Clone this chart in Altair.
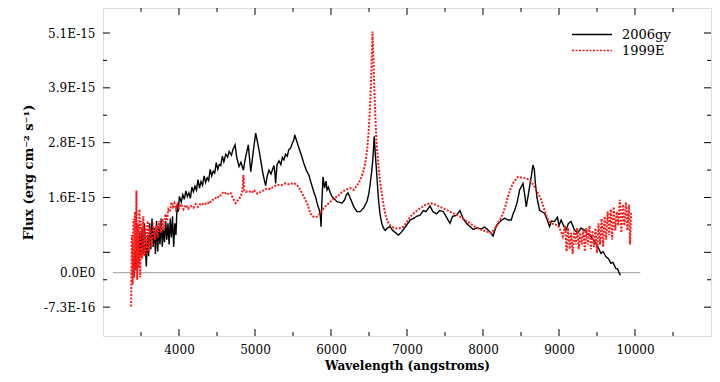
import altair as alt
import pandas as pd

# ---------------- data (flux in units of 1e-15 erg cm^-2 s^-1) ----------------
wl_2006gy = [3410, 3425, 3440, 3455, 3470, 3485, 3500, 3515, 3530, 3545, 3560, 3570, 3585, 3600, 3615,
             3630, 3645, 3660, 3675, 3690, 3705, 3720, 3735, 3750, 3765, 3780, 3795, 3810, 3825, 3840,
             3855, 3870, 3885, 3900, 3915, 3930, 3945, 3960, 3975, 3990, 4005, 4030, 4050, 4070, 4090,
             4110, 4130, 4150, 4170, 4190, 4210, 4230, 4250, 4270, 4290, 4310, 4330, 4350, 4370, 4390,
             4410, 4430, 4450, 4470, 4490, 4510, 4530, 4550, 4570, 4590, 4616, 4640, 4659, 4690, 4710,
             4738, 4760, 4790, 4815, 4847, 4875, 4912, 4944, 4975, 5009, 5030, 5052, 5080, 5105, 5140,
             5160, 5183, 5210, 5249, 5260, 5271, 5290, 5315, 5340, 5360, 5380, 5402, 5425, 5445, 5468,
             5490, 5510, 5524, 5545, 5577, 5610, 5642, 5675, 5708, 5740, 5773, 5800, 5817, 5848, 5860,
             5869, 5880, 5895, 5915, 5935, 5948, 5965, 5990, 6013, 6040, 6079, 6110, 6144, 6180, 6200,
             6223, 6250, 6275, 6300, 6341, 6385, 6430, 6472, 6500, 6516, 6535, 6550, 6569, 6582, 6595,
             6610, 6625, 6645, 6668, 6690, 6713, 6740, 6778, 6810, 6850, 6887, 6920, 6953, 6990, 7041,
             7080, 7127, 7170, 7215, 7250, 7303, 7340, 7389, 7430, 7477, 7520, 7565, 7600, 7650, 7696,
             7740, 7782, 7830, 7870, 7920, 7979, 8020, 8067, 8100, 8132, 8176, 8230, 8286, 8330, 8372,
             8395, 8417, 8450, 8482, 8526, 8550, 8569, 8590, 8613, 8640, 8657, 8675, 8687, 8710, 8744,
             8775, 8810, 8840, 8875, 8900, 8941, 8980, 9000, 9028, 9060, 9093, 9125, 9159, 9200, 9246,
             9290, 9334, 9380, 9421, 9450, 9486, 9520, 9552, 9580, 9617, 9650, 9683, 9710, 9748, 9770,
             9793, 9810]
flux_2006gy = [-0.10, 0.45, 0.05, 0.75, 0.20, 0.85, 0.35, 0.95, 0.40, 1.05, 0.45, 0.13, 0.80, 0.35, 1.05,
               0.50, 1.15, 0.55, 0.95, 0.40, 1.10, 0.45, 1.00, 0.60, 1.15, 0.55, 0.95, 0.65, 1.10, 0.70,
               1.05, 0.60, 1.15, 0.75, 1.20, 0.55, 1.05, 0.80, 1.45, 1.30, 1.62, 1.50, 1.66, 1.56, 1.74,
               1.62, 1.70, 1.58, 1.82, 1.72, 1.84, 1.76, 1.98, 1.80, 1.94, 1.86, 2.06, 1.92, 2.02, 1.96,
               2.20, 2.06, 2.16, 2.12, 2.34, 2.20, 2.30, 2.28, 2.48, 2.36, 2.52, 2.46, 2.58, 2.50, 2.62,
               2.72, 2.45, 2.26, 2.35, 2.18, 2.45, 2.72, 2.15, 2.55, 2.97, 2.80, 2.62, 2.35, 2.10, 1.85,
               2.05, 2.18, 2.10, 2.28, 2.15, 1.90, 2.30, 2.38, 2.30, 2.45, 2.40, 2.52, 2.48, 2.62, 2.65,
               2.75, 2.82, 2.93, 2.82, 2.66, 2.50, 2.33, 2.18, 2.08, 1.90, 1.72, 1.60, 1.48, 1.32, 1.20,
               0.98, 1.50, 2.04, 1.80, 1.95, 1.76, 1.82, 1.70, 1.62, 1.58, 1.51, 1.50, 1.48, 1.55, 1.65,
               1.70, 1.60, 1.50, 1.40, 1.30, 1.30, 1.38, 1.51, 1.70, 1.90, 2.15, 2.40, 2.90, 2.55, 2.26,
               1.90, 1.55, 1.25, 1.05, 0.95, 0.90, 0.95, 0.98, 0.90, 0.85, 0.80, 0.85, 0.92, 1.00, 1.12,
               1.15, 1.20, 1.22, 1.32, 1.30, 1.42, 1.30, 1.25, 1.32, 1.30, 1.18, 1.05, 1.20, 1.22, 1.32,
               1.15, 1.05, 0.98, 0.92, 0.95, 0.93, 0.97, 0.91, 0.85, 0.78, 1.00, 1.10, 1.16, 1.12, 1.12,
               1.25, 1.33, 1.50, 1.76, 1.90, 1.65, 1.40, 1.60, 1.83, 2.10, 2.29, 2.20, 1.94, 1.60, 1.33,
               1.30, 1.26, 1.15, 0.98, 1.10, 1.09, 1.18, 1.00, 1.12, 1.00, 0.91, 1.05, 1.09, 0.92, 0.84,
               0.95, 0.91, 0.82, 0.77, 0.70, 0.63, 0.52, 0.41, 0.45, 0.34, 0.30, 0.20, 0.22, 0.09, 0.08,
               -0.01, -0.05]

wl_1999e = [3370, 3380, 3390, 3400, 3410, 3420, 3430, 3440, 3450, 3460, 3470, 3480, 3490, 3500, 3515,
            3530, 3545, 3560, 3575, 3590, 3605, 3620, 3640, 3660, 3680, 3700, 3720, 3740, 3760, 3780,
            3800, 3820, 3840, 3860, 3880, 3900, 3920, 3940, 3960, 3980, 4000, 4030, 4060, 4090, 4120,
            4157, 4190, 4220, 4250, 4290, 4332, 4370, 4400, 4430, 4463, 4500, 4530, 4560, 4594, 4630,
            4660, 4682, 4710, 4747, 4780, 4813, 4835, 4847, 4860, 4878, 4920, 4960, 4987, 5030, 5075,
            5120, 5161, 5200, 5250, 5292, 5350, 5400, 5450, 5511, 5560, 5599, 5640, 5685, 5710, 5730,
            5760, 5795, 5830, 5882, 5930, 5992, 6050, 6090, 6123, 6180, 6220, 6254, 6298, 6340, 6385,
            6420, 6451, 6475, 6494, 6510, 6524, 6537, 6546, 6556, 6569, 6582, 6595, 6610, 6625, 6645,
            6668, 6690, 6713, 6740, 6778, 6820, 6865, 6910, 6953, 7000, 7041, 7100, 7172, 7240, 7303,
            7360, 7434, 7500, 7565, 7630, 7696, 7760, 7827, 7900, 7979, 8040, 8110, 8160, 8198, 8230,
            8263, 8300, 8329, 8360, 8395, 8430, 8460, 8520, 8569, 8600, 8635, 8670, 8700, 8735, 8766,
            8800, 8831, 8860, 8897, 8940, 8984, 9020, 9050, 9080, 9100, 9120, 9140, 9160, 9180, 9200,
            9220, 9240, 9260, 9280, 9300, 9320, 9340, 9360, 9380, 9400, 9420, 9440, 9460, 9480, 9500,
            9520, 9540, 9560, 9580, 9600, 9620, 9640, 9660, 9680, 9700, 9720, 9740, 9760, 9780, 9800,
            9820, 9840, 9860, 9880, 9900, 9920, 9935, 9950]
flux_1999e = [-0.72, 0.80, -0.25, 1.15, -0.10, 1.30, 0.05, 1.75, -0.15, 1.05, 0.10, 1.35, -0.10, 1.10, 0.30,
              1.20, 0.35, 1.00, 0.40, 1.10, 0.45, 0.95, 0.55, 1.05, 0.70, 1.00, 0.75, 1.10, 0.85, 1.15,
              0.90, 1.25, 1.10, 1.35, 1.30, 1.50, 1.40, 1.48, 1.35, 1.45, 1.38, 1.46, 1.35, 1.44, 1.36,
              1.42, 1.38, 1.46, 1.40, 1.48, 1.44, 1.50, 1.47, 1.55, 1.55, 1.62, 1.60, 1.68, 1.72, 1.66,
              1.70, 1.69, 1.58, 1.48, 1.55, 1.62, 1.75, 2.08, 1.75, 1.72, 1.74, 1.70, 1.76, 1.68, 1.72,
              1.76, 1.80, 1.78, 1.84, 1.87, 1.86, 1.90, 1.88, 1.91, 1.85, 1.76, 1.62, 1.48, 1.36, 1.26,
              1.20, 1.18, 1.20, 1.33, 1.42, 1.51, 1.60, 1.62, 1.69, 1.75, 1.78, 1.80, 1.76, 1.85, 1.97,
              2.12, 2.33, 2.60, 2.97, 3.40, 3.96, 4.60, 5.13, 4.60, 3.96, 3.40, 2.89, 2.55, 2.26, 1.95,
              1.69, 1.45, 1.26, 1.10, 1.01, 0.96, 0.94, 0.95, 0.98, 1.08, 1.19, 1.28, 1.37, 1.44, 1.48,
              1.46, 1.40, 1.35, 1.30, 1.25, 1.19, 1.12, 1.05, 0.97, 0.91, 0.88, 0.84, 0.95, 1.05, 1.15,
              1.26, 1.45, 1.62, 1.78, 1.90, 1.98, 2.04, 2.02, 2.01, 1.98, 1.94, 1.85, 1.76, 1.66, 1.55,
              1.38, 1.23, 1.12, 1.05, 1.03, 1.01, 0.90, 0.77, 1.00, 0.45, 0.95, 0.50, 0.85, 0.40, 0.90,
              0.60, 0.95, 0.50, 0.85, 0.60, 0.92, 0.45, 0.95, 0.60, 1.00, 0.50, 0.90, 0.55, 0.95, 0.42,
              1.05, 0.60, 1.15, 0.55, 1.20, 0.70, 1.30, 0.80, 1.35, 0.70, 1.40, 0.90, 1.30, 1.00, 1.55,
              0.85, 1.45, 1.00, 1.50, 0.90, 1.45, 0.60, 1.30]

series_names = ["2006gy", "1999E"]
series_colors = ["#000000", "#ff1a1a"]

zero_start = [3130]
zero_end = [10070]
zero_level = [0.0]

x_domain = [3000, 11000]
y_domain = [-1.347, 5.632]
x_label_values = [4000, 5000, 6000, 7000, 8000, 9000, 10000]
x_major = [4000, 5000, 6000, 7000, 8000, 9000, 10000]
x_minor = [3500, 4500, 5500, 6500, 7500, 8500, 9500, 10500]
y_label_values = [-0.7333, 0.0, 1.6, 2.7667, 3.9333, 5.1]
y_label_text = ["-7.3E-16", "0.0E0", "1.6E-15", "2.8E-15", "3.9E-15", "5.1E-15"]
y_major = [-0.7333, 0.4333, 1.6, 2.7667, 3.9333, 5.1]
y_minor = [-0.15, 1.0167, 2.1833, 3.35, 4.5167]

FONT = "DejaVu Serif"
W, H = 608, 328
MAJOR, MINOR = 7, 4

# ---------------- tables ----------------
spec_df = pd.concat([
    pd.DataFrame({"wl": wl_2006gy, "flux": flux_2006gy, "series": series_names[0]}),
    pd.DataFrame({"wl": wl_1999e, "flux": flux_1999e, "series": series_names[1]}),
], ignore_index=True)
zero_df = pd.DataFrame({"start": zero_start, "end": zero_end, "level": zero_level})
xmaj_df = pd.DataFrame({"wl": x_major})
xmin_df = pd.DataFrame({"wl": x_minor})
ymaj_df = pd.DataFrame({"flux": y_major})
ymin_df = pd.DataFrame({"flux": y_minor})

xs = alt.Scale(domain=x_domain, nice=False, zero=False)
ys = alt.Scale(domain=y_domain, nice=False, zero=False)

label_expr = ""
for v, t in zip(y_label_values, y_label_text):
    label_expr += f"abs(datum.value - ({v})) < 0.01 ? '{t}' : "
label_expr += "''"

x_axis = alt.Axis(orient="bottom", values=x_label_values, ticks=False, domain=False, grid=False,
                  labelPadding=8, labelFont=FONT, labelFontSize=12, labelColor="black",
                  format="d", title="Wavelength (angstroms)", titleFont=FONT,
                  titleFontSize=12, titleFontWeight="bold", titleColor="black", titlePadding=5)
y_axis = alt.Axis(orient="left", values=y_label_values, ticks=False, domain=False, grid=False,
                  labelPadding=8, labelFont=FONT, labelFontSize=12, labelColor="black",
                  labelExpr=label_expr, title="Flux (erg cm⁻² s⁻¹)", titleFont=FONT,
                  titleFontSize=13, titleFontWeight="bold", titleColor="black", titlePadding=8)

X = alt.X("wl:Q", scale=xs, axis=x_axis, title="Wavelength (angstroms)")
Y = alt.Y("flux:Q", scale=ys, axis=y_axis, title="Flux (erg cm⁻² s⁻¹)")

color = alt.Color("series:N", scale=alt.Scale(domain=series_names, range=series_colors),
                  legend=alt.Legend(orient="none", legendX=468, legendY=20, title=None,
                                    symbolType="stroke", symbolSize=1600, clipHeight=13,
                                    rowPadding=2, labelFont=FONT, labelFontSize=13,
                                    labelOffset=9, symbolStrokeWidth=1.3, labelColor="black"))
dash = alt.StrokeDash("series:N", scale=alt.Scale(domain=series_names, range=[[1, 0], [2, 1.5]]),
                      legend=None)

black = alt.Chart(spec_df).transform_filter(alt.datum.series == series_names[0]).mark_line(
    strokeWidth=1.4).encode(x=X, y=Y, color=color, strokeDash=dash)

red = alt.Chart(spec_df).transform_filter(alt.datum.series == series_names[1]).mark_line(
    strokeWidth=2).encode(x=X, y=Y, color=color, strokeDash=dash)

zero_rule = alt.Chart(zero_df).mark_rule(color="#9a9a9a", strokeWidth=1).encode(
    x=alt.X("start:Q", scale=xs, axis=x_axis, title="Wavelength (angstroms)"),
    x2="end:Q",
    y=alt.Y("level:Q", scale=ys, axis=y_axis, title="Flux (erg cm⁻² s⁻¹)"),
)


def xticks(df, length, top):
    y0, y1 = (0, length) if top else (H, H - length)
    return alt.Chart(df).mark_rule(color="black", strokeWidth=1).encode(
        x=X, y=alt.value(y0), y2=alt.value(y1))


def yticks(df, length, right):
    x0, x1 = (W, W - length) if right else (0, length)
    return alt.Chart(df).mark_rule(color="black", strokeWidth=1).encode(
        y=Y, x=alt.value(x0), x2=alt.value(x1))


tick_layers = [
    xticks(xmaj_df, MAJOR, False), xticks(xmin_df, MINOR, False),
    xticks(xmaj_df, MAJOR, True), xticks(xmin_df, MINOR, True),
    yticks(ymaj_df, MAJOR, False), yticks(ymin_df, MINOR, False),
    yticks(ymaj_df, MAJOR, True), yticks(ymin_df, MINOR, True),
]

chart = alt.layer(zero_rule, black, red, *tick_layers).properties(
    width=W, height=H,
    autosize=alt.AutoSizeParams(type="none"),
    padding={"left": 95, "top": 0, "right": 1, "bottom": 38},
).configure_view(stroke="black", strokeWidth=1.5).configure(background="white")

chart.save("out.html", embed_options={"renderer": "svg", "actions": False})
